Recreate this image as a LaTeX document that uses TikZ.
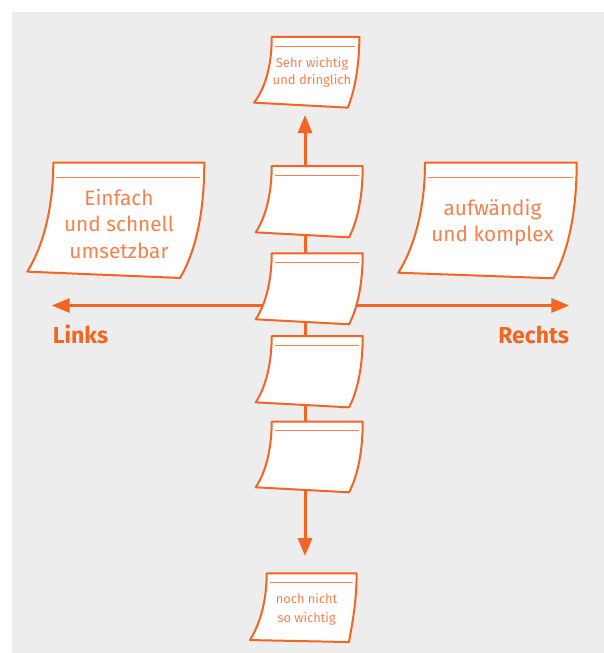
\documentclass[tikz,border=0pt]{standalone}
\usepackage{fontspec}
\setmainfont{Fira Sans}
\usetikzlibrary{calc,arrows.meta}

\definecolor{accent}{RGB}{242,101,34}
\definecolor{accentsoft}{RGB}{245,130,78}
\definecolor{panel}{RGB}{237,237,237}

% centred stack of lines whose baseline is the first line
\newcommand\notelines[1]{\begin{tabular}[t]{@{}c@{}}#1\end{tabular}}

% sticky sheet inside the box of node #1:
% #2 inset of the top-left corner, #3 inset of the bottom-right corner,
% #4 lift of the bottom-left corner
\newcommand\drawsheet[4]{%
  \path[sheet] let \p1=(#1.north west), \p2=(#1.south east),
      \n1={\x2-\x1}, \n2={\y1-\y2} in
    (\x1+#2pt,\y1) -- (\x2,\y1)
    .. controls (\x2,\y1-0.41*\n2) and (\x2-0.044*\n1,\y1-0.76*\n2) .. (\x2-#3pt,\y2)
    -- (\x1,\y2+#4pt)
    .. controls (\x1+#2pt-0.044*\n1,\y1-0.69*\n2) and (\x1+#2pt,\y1-0.34*\n2) .. cycle;
  \path[sheetrule] let \p1=(#1.north west), \p2=(#1.south east),
      \n2={\y1-\y2} in
    (\x1+#2pt+3pt,\y1-0.13*\n2) -- (\x2-4pt,\y1-0.13*\n2);
}

\begin{document}
\begin{tikzpicture}[x=1pt,y=-1pt,
  sheetframe/.style={inner sep=0pt, outer sep=0pt, draw=none},
  sheet/.style={draw=accent, line width=2pt, fill=white, line join=round},
  sheetrule/.style={draw=accentsoft, line width=1.2pt},
  notetext/.style={text=accentsoft, inner sep=0pt, anchor=base},
  smallnote/.style={notetext, font=\fontsize{13}{17.5}\selectfont},
  lownote/.style={notetext, font=\fontsize{12.8}{19.5}\selectfont},
  bignote/.style={notetext, font=\fontsize{20.8}{26.7}\selectfont},
  axis/.style={draw=accent, line width=3pt,
    {Triangle[length=18pt,width=14pt]}-{Triangle[length=18pt,width=14pt]}},
  sidelabel/.style={text=accent, inner sep=0pt, font=\fontsize{23}{27}\selectfont\bfseries}]

  % page and grey panel
  \useasboundingbox (0,0) rectangle (604,653);
  \fill[white] (0,0) rectangle (604,653);
  \fill[panel] (12,12) rectangle (604,653);

  % sheet boxes
  \node[sheetframe, minimum width=105.3pt, minimum height=70.7pt] (urgent) at (306.7,72.3) {};
  \node[sheetframe, minimum width=177pt, minimum height=115.3pt] (easy) at (115.8,220.3) {};
  \node[sheetframe, minimum width=178.4pt, minimum height=115.6pt] (complex) at (487.5,220.5) {};
  \node[sheetframe, minimum width=107pt, minimum height=71.3pt] (c1) at (309.2,201.7) {};
  \node[sheetframe, minimum width=107pt, minimum height=71pt] (c2) at (309.2,288.8) {};
  \node[sheetframe, minimum width=107pt, minimum height=71.3pt] (c3) at (309.2,371.7) {};
  \node[sheetframe, minimum width=107pt, minimum height=70.6pt] (c4) at (309.2,457) {};
  \node[sheetframe, minimum width=106.7pt, minimum height=68.7pt] (later) at (303.3,607.7) {};

  % axes
  \coordinate (upTip) at (305,115);
  \coordinate (downTip) at (305,556);
  \coordinate (leftTip) at (51.7,305.5);
  \coordinate (rightTip) at (569.3,305.5);
  \draw[axis] (downTip) -- (upTip);
  \draw[axis] (leftTip) -- (rightTip);

  % sheets
  \drawsheet{urgent}{17.7}{11.6}{5}
  \drawsheet{easy}{26}{24.3}{6.3}
  \drawsheet{complex}{26.7}{23.4}{5.6}
  \drawsheet{c1}{16}{13.7}{5}
  \drawsheet{c2}{16}{13.7}{5}
  \drawsheet{c3}{16}{13.7}{5}
  \drawsheet{c4}{16}{13.7}{5}
  \drawsheet{later}{16.7}{7.7}{2}

  % texts on the sheets
  \node[smallnote] (urgentText) at (312,67.3) {\notelines{Sehr wichtig\\und dringlich}};
  \node[bignote] (easyText) at (119,205) {\notelines{Einfach\\und schnell\\umsetzbar}};
  \node[bignote] (complexText) at (492.5,215) {\notelines{aufwändig\\und komplex}};
  \node[lownote] (laterText) at (306.6,603.3) {\notelines{noch nicht\\so wichtig}};

  % axis labels
  \node[sidelabel, anchor=base west] (links) at (52.7,343) {Links};
  \node[sidelabel, anchor=base east] (rechts) at (569.3,343) {Rechts};
\end{tikzpicture}
\end{document}
